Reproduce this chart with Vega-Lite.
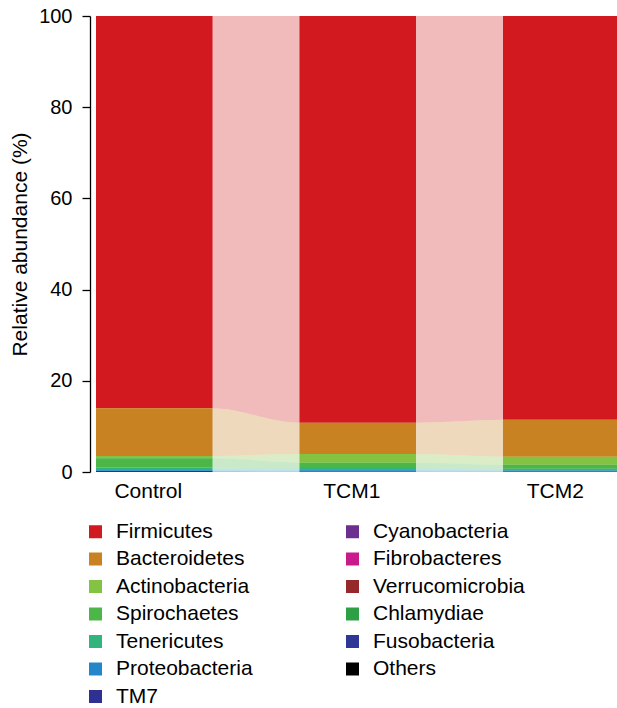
{
  "$schema": "https://vega.github.io/schema/vega-lite/v6.json",
  "width": 527,
  "height": 456,
  "autosize": {"type": "none"},
  "padding": {"left": 90, "top": 16, "right": 0, "bottom": 236},
  "config": {
    "font": "Liberation Sans",
    "view": {"stroke": null},
    "axis": {"labelColor": "black", "titleColor": "black", "titleFontWeight": "normal", "labelFont": "Liberation Sans", "titleFont": "Liberation Sans"},
    "legend": {"labelFont": "Liberation Sans"}
  },
  "data": {"values": [
    {"group":"Control","side":"L","phylum":"Firmicutes","rank":1,"value":86.0},
    {"group":"Control","side":"L","phylum":"Bacteroidetes","rank":2,"value":10.5},
    {"group":"Control","side":"L","phylum":"Actinobacteria","rank":3,"value":0.5},
    {"group":"Control","side":"L","phylum":"Spirochaetes","rank":4,"value":2.0},
    {"group":"Control","side":"L","phylum":"Tenericutes","rank":5,"value":0.6},
    {"group":"Control","side":"L","phylum":"Proteobacteria","rank":6,"value":0.2},
    {"group":"Control","side":"L","phylum":"TM7","rank":7,"value":0.2},
    {"group":"Control","side":"L","phylum":"Cyanobacteria","rank":8,"value":0},
    {"group":"Control","side":"L","phylum":"Fibrobacteres","rank":9,"value":0},
    {"group":"Control","side":"L","phylum":"Verrucomicrobia","rank":10,"value":0},
    {"group":"Control","side":"L","phylum":"Chlamydiae","rank":11,"value":0},
    {"group":"Control","side":"L","phylum":"Fusobacteria","rank":12,"value":0},
    {"group":"Control","side":"L","phylum":"Others","rank":13,"value":0},
    {"group":"Control","side":"R","phylum":"Firmicutes","rank":1,"value":86.0},
    {"group":"Control","side":"R","phylum":"Bacteroidetes","rank":2,"value":10.5},
    {"group":"Control","side":"R","phylum":"Actinobacteria","rank":3,"value":0.5},
    {"group":"Control","side":"R","phylum":"Spirochaetes","rank":4,"value":2.0},
    {"group":"Control","side":"R","phylum":"Tenericutes","rank":5,"value":0.6},
    {"group":"Control","side":"R","phylum":"Proteobacteria","rank":6,"value":0.2},
    {"group":"Control","side":"R","phylum":"TM7","rank":7,"value":0.2},
    {"group":"Control","side":"R","phylum":"Cyanobacteria","rank":8,"value":0},
    {"group":"Control","side":"R","phylum":"Fibrobacteres","rank":9,"value":0},
    {"group":"Control","side":"R","phylum":"Verrucomicrobia","rank":10,"value":0},
    {"group":"Control","side":"R","phylum":"Chlamydiae","rank":11,"value":0},
    {"group":"Control","side":"R","phylum":"Fusobacteria","rank":12,"value":0},
    {"group":"Control","side":"R","phylum":"Others","rank":13,"value":0},
    {"group":"TCM1","side":"L","phylum":"Firmicutes","rank":1,"value":89.2},
    {"group":"TCM1","side":"L","phylum":"Bacteroidetes","rank":2,"value":6.85},
    {"group":"TCM1","side":"L","phylum":"Actinobacteria","rank":3,"value":1.9},
    {"group":"TCM1","side":"L","phylum":"Spirochaetes","rank":4,"value":0.95},
    {"group":"TCM1","side":"L","phylum":"Tenericutes","rank":5,"value":0.7},
    {"group":"TCM1","side":"L","phylum":"Proteobacteria","rank":6,"value":0.25},
    {"group":"TCM1","side":"L","phylum":"TM7","rank":7,"value":0.05},
    {"group":"TCM1","side":"L","phylum":"Cyanobacteria","rank":8,"value":0.1},
    {"group":"TCM1","side":"L","phylum":"Fibrobacteres","rank":9,"value":0},
    {"group":"TCM1","side":"L","phylum":"Verrucomicrobia","rank":10,"value":0},
    {"group":"TCM1","side":"L","phylum":"Chlamydiae","rank":11,"value":0},
    {"group":"TCM1","side":"L","phylum":"Fusobacteria","rank":12,"value":0},
    {"group":"TCM1","side":"L","phylum":"Others","rank":13,"value":0},
    {"group":"TCM1","side":"R","phylum":"Firmicutes","rank":1,"value":89.2},
    {"group":"TCM1","side":"R","phylum":"Bacteroidetes","rank":2,"value":6.85},
    {"group":"TCM1","side":"R","phylum":"Actinobacteria","rank":3,"value":1.9},
    {"group":"TCM1","side":"R","phylum":"Spirochaetes","rank":4,"value":0.95},
    {"group":"TCM1","side":"R","phylum":"Tenericutes","rank":5,"value":0.7},
    {"group":"TCM1","side":"R","phylum":"Proteobacteria","rank":6,"value":0.25},
    {"group":"TCM1","side":"R","phylum":"TM7","rank":7,"value":0.05},
    {"group":"TCM1","side":"R","phylum":"Cyanobacteria","rank":8,"value":0.1},
    {"group":"TCM1","side":"R","phylum":"Fibrobacteres","rank":9,"value":0},
    {"group":"TCM1","side":"R","phylum":"Verrucomicrobia","rank":10,"value":0},
    {"group":"TCM1","side":"R","phylum":"Chlamydiae","rank":11,"value":0},
    {"group":"TCM1","side":"R","phylum":"Fusobacteria","rank":12,"value":0},
    {"group":"TCM1","side":"R","phylum":"Others","rank":13,"value":0},
    {"group":"TCM2","side":"L","phylum":"Firmicutes","rank":1,"value":88.55},
    {"group":"TCM2","side":"L","phylum":"Bacteroidetes","rank":2,"value":8.1},
    {"group":"TCM2","side":"L","phylum":"Actinobacteria","rank":3,"value":1.75},
    {"group":"TCM2","side":"L","phylum":"Spirochaetes","rank":4,"value":0.9},
    {"group":"TCM2","side":"L","phylum":"Tenericutes","rank":5,"value":0.35},
    {"group":"TCM2","side":"L","phylum":"Proteobacteria","rank":6,"value":0.2},
    {"group":"TCM2","side":"L","phylum":"TM7","rank":7,"value":0.05},
    {"group":"TCM2","side":"L","phylum":"Cyanobacteria","rank":8,"value":0.1},
    {"group":"TCM2","side":"L","phylum":"Fibrobacteres","rank":9,"value":0},
    {"group":"TCM2","side":"L","phylum":"Verrucomicrobia","rank":10,"value":0},
    {"group":"TCM2","side":"L","phylum":"Chlamydiae","rank":11,"value":0},
    {"group":"TCM2","side":"L","phylum":"Fusobacteria","rank":12,"value":0},
    {"group":"TCM2","side":"L","phylum":"Others","rank":13,"value":0},
    {"group":"TCM2","side":"R","phylum":"Firmicutes","rank":1,"value":88.55},
    {"group":"TCM2","side":"R","phylum":"Bacteroidetes","rank":2,"value":8.1},
    {"group":"TCM2","side":"R","phylum":"Actinobacteria","rank":3,"value":1.75},
    {"group":"TCM2","side":"R","phylum":"Spirochaetes","rank":4,"value":0.9},
    {"group":"TCM2","side":"R","phylum":"Tenericutes","rank":5,"value":0.35},
    {"group":"TCM2","side":"R","phylum":"Proteobacteria","rank":6,"value":0.2},
    {"group":"TCM2","side":"R","phylum":"TM7","rank":7,"value":0.05},
    {"group":"TCM2","side":"R","phylum":"Cyanobacteria","rank":8,"value":0.1},
    {"group":"TCM2","side":"R","phylum":"Fibrobacteres","rank":9,"value":0},
    {"group":"TCM2","side":"R","phylum":"Verrucomicrobia","rank":10,"value":0},
    {"group":"TCM2","side":"R","phylum":"Chlamydiae","rank":11,"value":0},
    {"group":"TCM2","side":"R","phylum":"Fusobacteria","rank":12,"value":0},
    {"group":"TCM2","side":"R","phylum":"Others","rank":13,"value":0}
  ]},
  "encoding": {
    "x": {
      "field": "group", "type": "nominal",
      "scale": {"type": "band", "range": [0, 529.5], "paddingInner": 0.42752, "paddingOuter": 0.014742, "align": 1},
      "axis": {"title": null, "domain": false, "ticks": false, "labelAngle": 0, "labelFontSize": 21, "labelPadding": 8, "labelOffset": -6}
    },
    "y": {
      "field": "value", "type": "quantitative", "stack": "zero",
      "scale": {"domain": [0, 100], "nice": false, "zero": true},
      "axis": {"title": "Relative abundance (%)", "values": [0, 20, 40, 60, 80, 100], "grid": false,
        "domainColor": "black", "tickColor": "black", "domainWidth": 1.3, "tickWidth": 1.3, "tickSize": 8,
        "labelPadding": 10, "labelFontSize": 20, "titleFontSize": 21, "titlePadding": 8}
    },
    "order": {"field": "rank", "type": "quantitative", "sort": "descending"},
    "color": {
      "field": "phylum", "type": "nominal",
      "scale": {
        "domain": ["Firmicutes", "Bacteroidetes", "Actinobacteria", "Spirochaetes", "Tenericutes", "Proteobacteria", "TM7", "Cyanobacteria", "Fibrobacteres", "Verrucomicrobia", "Chlamydiae", "Fusobacteria", "Others"],
        "range": ["#D2191F", "#C88222", "#84C241", "#4DB648", "#32B57C", "#2286C8", "#2E3192", "#6B2F8F", "#C81A8B", "#94282B", "#2DA046", "#2E3795", "#000000"]
      },
      "legend": {"title": null, "orient": "none", "direction": "vertical", "legendX": -5, "legendY": 505, "columns": 2, "columnPadding": 89,
        "rowPadding": 5.5, "symbolType": "square", "symbolSize": 169, "symbolStrokeWidth": 0, "symbolOpacity": 1,
        "labelFontSize": 21, "labelOffset": 10, "labelColor": "black", "padding": 0, "labelLimit": 300}
    }
  },
  "layer": [
    {
      "mark": {"type": "area", "interpolate": "monotone", "fillOpacity": 0.3},
      "encoding": {
        "xOffset": {"field": "side", "type": "nominal", "scale": {"type": "point", "padding": 0}}
      }
    },
    {
      "transform": [{"filter": "datum.side === 'L'"}],
      "mark": {"type": "bar", "width": 116.5}
    }
  ]
}
